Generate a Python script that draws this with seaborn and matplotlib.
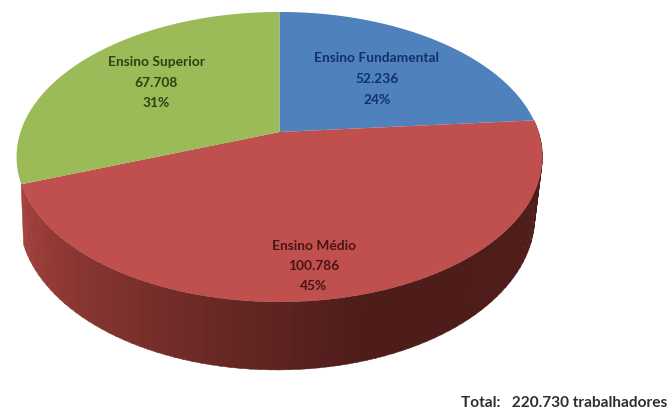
import numpy as np
import matplotlib
matplotlib.use("Agg")
import matplotlib.pyplot as plt
import matplotlib.colors as mcolors
import seaborn as sns

# Workers by schooling level, clockwise from twelve o'clock
categories = ["Ensino Fundamental", "Ensino Médio", "Ensino Superior"]
workers = [52236, 100786, 67708]
value_labels = ["52.236", "100.786", "67.708"]
percent_labels = ["24%", "45%", "31%"]
slice_colors = ["#4F81BD", "#C0504D", "#9BBB59"]
text_colors = ["#12306A", "#4A1412", "#2C4210"]
label_centers = [(377, 58, 21), (314, 246, 20), (156, 62, 20.5)]
total_note = "Total:   220.730 trabalhadores"

sns.set_theme(style="white")
plt.rcParams["font.family"] = ["Lato", "DejaVu Sans"]

# Perspective disc: the far edge is compressed relative to the near edge
CX, TILT = 279.5, 0.172


def top_face(theta):
    u, v = np.sin(theta), np.cos(theta)
    w = 1 + TILT * v
    return CX + 259 * u / w, 132 - 140.7 * v / w


def bottom_face(theta):
    u, v = np.sin(theta), np.cos(theta)
    w = 1 + TILT * v
    return CX - 2.5 + 254 * u / w, 190 - 149 * v / w


fig = plt.figure(figsize=(6.7, 4.12), dpi=100)
ax = fig.add_axes([0, 0, 1, 1])
ax.set_xlim(0, 670)
ax.set_ylim(412, 0)
ax.axis("off")

shares = np.asarray(workers, dtype=float) / sum(workers)
edges = np.concatenate([[0], np.cumsum(shares)]) * 2 * np.pi

# Outer wall of the front slice, shaded from lit left side to dark right side
wall_light = np.array(mcolors.to_rgb("#A5423F"))
wall_dark = np.array(mcolors.to_rgb("#4E1D1A"))
steps = np.linspace(edges[1], edges[2], 90)
for a0, a1 in zip(steps[:-1], steps[1:]):
    arc = np.linspace(a0, a1 + 0.004, 4)
    tx, ty = top_face(arc)
    bx, by = bottom_face(arc)
    mid = (a0 + a1) / 2
    t = np.clip((mid - np.radians(250)) / (np.radians(165) - np.radians(250)), 0, 1)
    shade = wall_light + (wall_dark - wall_light) * t
    ax.fill(np.r_[tx, bx[::-1]], np.r_[ty, by[::-1]], color=shade, lw=0.3, zorder=1)

# Upper faces of the slices
for start, stop, color in zip(edges[:-1], edges[1:], slice_colors):
    arc = np.linspace(start, stop, 200)
    x, y = top_face(arc)
    ax.fill(np.r_[CX, x], np.r_[132, y], color=color, lw=0, zorder=2)

# Three-line labels on each slice
for name, value, pct, color, (lx, ly, gap) in zip(
    categories, value_labels, percent_labels, text_colors, label_centers
):
    for i, line in enumerate((name, value, pct)):
        ax.text(lx, ly + i * gap, line, ha="center", va="center", color=color,
                fontsize=9.9, fontweight="bold", zorder=3)

ax.text(667, 403, total_note, ha="right", va="center", color="#2E2E2E",
        fontsize=11.1, fontweight="bold")

fig.savefig("out.png", dpi=100, facecolor="white")
